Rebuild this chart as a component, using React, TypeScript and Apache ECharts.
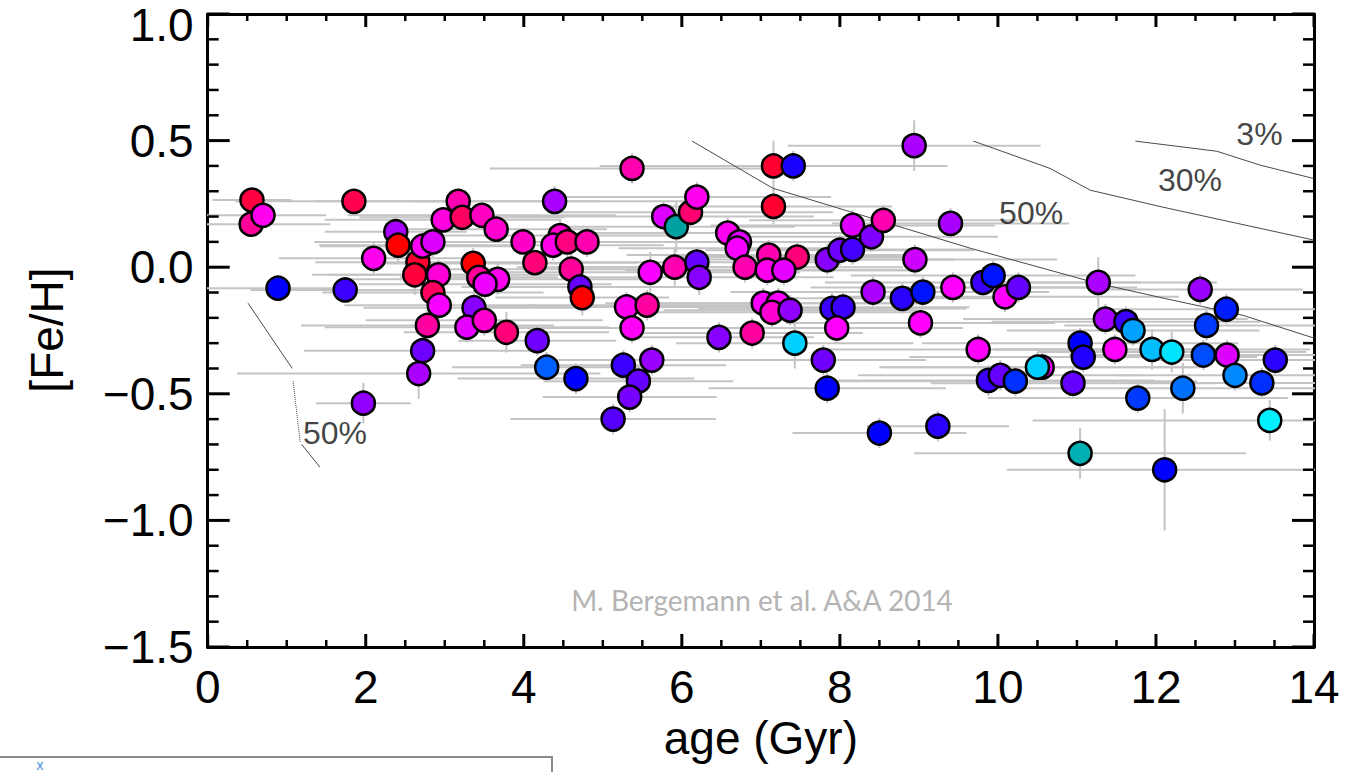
import React, { useEffect, useRef } from "react";
import * as echarts from "echarts";

// ---- data ----
const ages = [
  0.56, 0.55, 0.70, 0.89, 1.74, 1.85, 1.97, 2.10, 2.38, 2.41, 2.66, 2.62, 2.72, 2.85, 2.92, 2.85, 2.93, 2.78, 2.72, 2.67,
  2.98, 3.17, 3.22, 3.47, 3.65, 3.36, 3.43, 3.67, 3.51, 3.37, 3.28, 3.50, 3.78, 4.17, 4.29, 4.66, 3.99, 4.14, 4.39, 4.46,
  4.37, 4.55, 4.60, 4.71, 4.74, 4.80,
  5.37, 7.16, 7.41, 7.16, 8.94, 5.77, 5.93, 6.11, 6.19, 5.60, 5.91, 6.19, 6.22, 5.30, 5.56, 5.37, 5.26, 5.62, 5.45, 5.34,
  5.13, 6.58, 6.73, 6.70, 7.10, 7.46, 6.80, 7.08, 7.29, 6.47, 6.89, 7.43, 7.03, 7.22, 7.14, 7.37, 7.84, 8.00, 8.16, 8.16,
  8.40, 8.55, 9.40, 8.95, 7.90, 8.04, 7.96, 7.79, 7.84, 8.42, 8.79, 9.05, 9.02, 9.43, 8.50, 9.24,
  9.81, 9.94, 10.09, 10.26, 9.75, 9.88, 10.03, 10.22, 10.56, 10.50, 10.95, 11.04, 11.08, 11.04, 11.27, 11.36, 11.62, 11.71,
  11.48, 11.95, 12.20, 11.77, 12.34, 12.11, 12.56, 12.89, 12.64, 12.60, 12.90, 13.00, 13.34, 13.51, 13.44,
];
const fehs = [
  0.265, 0.17, 0.205, -0.083, -0.09, 0.26, -0.537, 0.035, 0.14, 0.087, 0.02, -0.03, 0.083, 0.10, -0.03, -0.10, -0.15, -0.23, -0.33, -0.42,
  0.187, 0.26, 0.197, 0.205, 0.15, 0.015, -0.04, -0.048, -0.067, -0.16, -0.237, -0.21, -0.257, -0.29, -0.395, -0.44, 0.10, 0.018, 0.26, 0.125,
  0.087, 0.10, -0.008, -0.078, -0.12, 0.10,
  0.39, 0.40, 0.40, 0.24, 0.48, 0.20, 0.16, 0.217, 0.277, -0.02, 0.0, 0.02, -0.04, -0.157, -0.15, -0.24, -0.387, -0.367, -0.45, -0.513,
  -0.60, 0.135, 0.10, 0.075, 0.048, 0.04, 0.0, -0.012, -0.012, -0.277, -0.26, -0.30, -0.142, -0.142, -0.178, -0.17, 0.03, 0.067, 0.07, 0.165,
  0.12, 0.185, 0.173, 0.03, -0.163, -0.158, -0.24, -0.367, -0.478, -0.098, -0.123, -0.098, -0.22, -0.08, -0.655, -0.628,
  -0.06, -0.033, -0.117, -0.08, -0.325, -0.447, -0.427, -0.45, -0.395, -0.395, -0.458, -0.30, -0.355, -0.735, -0.06, -0.205, -0.215, -0.25,
  -0.325, -0.325, -0.335, -0.517, -0.478, -0.80, -0.088, -0.166, -0.23, -0.347, -0.347, -0.427, -0.457, -0.367, -0.605,
];
// colour-coded quantity (0 = red ... 1 = teal)
const colorParam = [
  0.07, 0.17, 0.28, 0.60, 0.53, 0.08, 0.43, 0.28, 0.40, 0.00, 0.05, 0.06, 0.29, 0.34, 0.25, 0.10, 0.31, 0.18, 0.47, 0.40,
  0.26, 0.20, 0.10, 0.22, 0.24, 0.00, 0.17, 0.28, 0.32, 0.44, 0.33, 0.24, 0.13, 0.47, 0.70, 0.60, 0.23, 0.13, 0.40, 0.23,
  0.27, 0.14, 0.17, 0.48, 0.00, 0.20,
  0.20, 0.05, 0.57, 0.05, 0.40, 0.34, 1.00, 0.12, 0.28, 0.31, 0.20, 0.48, 0.44, 0.28, 0.18, 0.29, 0.53, 0.42, 0.48, 0.46,
  0.50, 0.28, 0.34, 0.31, 0.20, 0.13, 0.20, 0.28, 0.33, 0.44, 0.18, 0.85, 0.31, 0.30, 0.24, 0.43, 0.44, 0.47, 0.52, 0.34,
  0.45, 0.20, 0.40, 0.36, 0.53, 0.53, 0.30, 0.47, 0.60, 0.40, 0.55, 0.62, 0.30, 0.30, 0.60, 0.55,
  0.53, 0.62, 0.30, 0.48, 0.30, 0.53, 0.48, 0.65, 0.32, 0.85, 0.48, 0.60, 0.56, 0.98, 0.40, 0.40, 0.53, 0.78,
  0.30, 0.82, 0.88, 0.66, 0.72, 0.60, 0.42, 0.63, 0.66, 0.68, 0.34, 0.75, 0.65, 0.55, 0.90,
];
const ageErr = [
  0.5, 1.0, 0.8, 0.9, 1.2, 1.5, 0.6, 1.2, 0.9, 1.0, 1.3, 1.1, 1.3, 1.5, 1.6, 1.4, 1.2, 1.6, 1.5, 2.3,
  1.5, 1.8, 1.3, 1.7, 1.4, 1.2, 1.0, 2.0, 1.6, 1.4, 1.8, 1.5, 1.3, 1.0, 1.2, 1.5, 1.6, 1.3, 1.8, 1.5,
  1.4, 1.2, 1.7, 1.5, 1.1, 1.8,
  1.8, 2.2, 1.6, 1.5, 1.6, 1.9, 1.5, 1.8, 1.7, 1.9, 2.0, 1.6, 1.7, 1.8, 1.5, 2.0, 1.3, 1.4, 1.2, 1.1,
  1.3, 1.9, 1.7, 1.5, 1.8, 1.6, 2.0, 1.8, 1.7, 1.2, 1.4, 1.5, 2.0, 1.9, 1.8, 1.6, 1.6, 1.7, 1.5, 1.8,
  1.6, 1.7, 1.5, 1.8, 1.7, 1.6, 1.6, 1.3, 1.5, 1.8, 1.5, 1.6, 1.7, 1.8, 1.1, 0.9,
  2.0, 1.8, 2.2, 1.5, 1.9, 2.1, 1.8, 2.3, 2.0, 2.0, 1.8, 2.0, 2.2, 2.1, 1.5, 1.8, 1.7, 1.6,
  1.5, 2.0, 1.7, 1.9, 2.0, 2.0, 1.3, 1.5, 1.8, 1.7, 1.6, 1.5, 1.7, 1.6, 3.0,
];
const fehErr = [
  0.04, 0.05, 0.05, 0.05, 0.05, 0.05, 0.08, 0.06, 0.06, 0.07, 0.06, 0.08, 0.06, 0.06, 0.06, 0.06, 0.06, 0.06, 0.07, 0.10,
  0.05, 0.05, 0.05, 0.05, 0.05, 0.06, 0.06, 0.06, 0.06, 0.07, 0.06, 0.06, 0.08, 0.06, 0.06, 0.06, 0.05, 0.05, 0.06, 0.06,
  0.06, 0.06, 0.06, 0.06, 0.07, 0.06,
  0.06, 0.10, 0.06, 0.07, 0.10, 0.06, 0.10, 0.06, 0.06, 0.08, 0.08, 0.06, 0.07, 0.06, 0.06, 0.06, 0.06, 0.06, 0.06, 0.06,
  0.06, 0.06, 0.06, 0.06, 0.06, 0.06, 0.06, 0.06, 0.06, 0.06, 0.06, 0.10, 0.06, 0.06, 0.06, 0.06, 0.06, 0.06, 0.06, 0.06,
  0.06, 0.06, 0.06, 0.06, 0.06, 0.06, 0.06, 0.06, 0.06, 0.06, 0.06, 0.06, 0.06, 0.06, 0.06, 0.06,
  0.06, 0.06, 0.06, 0.06, 0.06, 0.06, 0.06, 0.06, 0.06, 0.06, 0.06, 0.06, 0.06, 0.10, 0.10, 0.06, 0.06, 0.06,
  0.06, 0.08, 0.08, 0.06, 0.10, 0.24, 0.06, 0.06, 0.06, 0.06, 0.06, 0.06, 0.06, 0.06, 0.08,
];

// probability contours [age, [Fe/H]]
const contour50Right = [[6.13, 0.498], [7.15, 0.312], [9.65, 0.075], [11.25, -0.063], [12.09, -0.122], [13.1, -0.19], [14.0, -0.28]];
const contour30 = [[9.69, 0.498], [10.66, 0.39], [11.17, 0.304], [12.09, 0.237], [14.0, 0.107]];
const contour3 = [[11.74, 0.498], [12.77, 0.458], [13.32, 0.403], [14.0, 0.35]];
const contour50LeftA = [[0.51, -0.142], [1.07, -0.4]];
const contour50LeftDot = [[1.08, -0.45], [1.17, -0.69]];
const contour50LeftB = [[1.19, -0.7], [1.42, -0.79]];
const contourLabels = [
  { text: "50%", pos: [1.61, -0.656] },
  { text: "50%", pos: [10.42, 0.213] },
  { text: "30%", pos: [12.43, 0.344] },
  { text: "3%", pos: [13.31, 0.525] },
];

const xTicks = { min: 0, max: 14, interval: 2, minorSplit: 4 };
const yTicks = { min: -1.5, max: 1.0, interval: 0.5, minorSplit: 5 };

const colorStops = [
  "#ff0000", "#ff0060", "#ff00b0", "#ff00ff", "#aa00ff", "#5500ff",
  "#0000ff", "#0060ff", "#00b0ff", "#00f0ff", "#00a0a0",
];

const FONT = "'Liberation Sans', Arial, Helvetica, sans-serif";

// tick values derived from the axis definitions: [value, isX(1/0), isMajor(1/0)]
function buildTicks() {
  const out: number[][] = [];
  const add = (t: typeof xTicks, isX: number) => {
    const step = t.interval / t.minorSplit;
    const n = Math.round((t.max - t.min) / step);
    for (let i = 0; i <= n; i++) {
      const v = t.min + i * step;
      out.push([v, isX, i % t.minorSplit === 0 ? 1 : 0]);
    }
  };
  add(xTicks, 1);
  add(yTicks, 0);
  return out;
}

export default function App() {
  const ref = useRef<HTMLDivElement>(null);
  useEffect(() => {
    if (!ref.current) return;
    const chart = echarts.init(ref.current, null, { renderer: "svg" });
    const points = ages.map((a, i) => [a, fehs[i], colorParam[i]]);
    const errs = ages.map((a, i) => [a, fehs[i], ageErr[i], fehErr[i]]);
    const ticks = buildTicks();

    const axisCommon = {
      type: "value" as const,
      splitLine: { show: false },
      axisLine: { show: true, onZero: false, lineStyle: { color: "#000", width: 3 } },
      axisTick: { show: false },
      minorTick: { show: false },
    };
    const xAxisBase = { ...axisCommon, min: xTicks.min, max: xTicks.max, interval: xTicks.interval };
    const yAxisBase = { ...axisCommon, min: yTicks.min, max: yTicks.max, interval: yTicks.interval };
    const lineSeries = (data: number[][], type: string = "solid") => ({
      type: "line",
      data,
      xAxisIndex: 0,
      yAxisIndex: 0,
      symbol: "none",
      silent: true,
      z: 2,
      lineStyle: { color: "#4a4a4a", width: 1, type },
    });
    const labelStyle = { fontSize: 46, color: "#000", fontFamily: FONT };

    chart.setOption({
      animation: false,
      backgroundColor: "#fff",
      grid: { left: 207.7, right: 51, top: 14, bottom: 125, containLabel: false },
      xAxis: [
        {
          ...xAxisBase,
          position: "bottom",
          name: "age (Gyr)",
          nameLocation: "middle",
          nameGap: 68,
          nameTextStyle: { ...labelStyle, verticalAlign: "top" },
          axisLabel: { ...labelStyle, margin: 17 },
        },
        { ...xAxisBase, position: "top", axisLabel: { show: false } },
      ],
      yAxis: [
        {
          ...yAxisBase,
          position: "left",
          axisLabel: {
            ...labelStyle,
            margin: 14,
            formatter: (v: number) => {
              const s = (v < 0 ? "\u2212" : "") + Math.abs(v).toFixed(1);
              return v >= yTicks.max ? "{top|" + s + "}" : s;
            },
            rich: { top: { ...labelStyle, padding: [22, 0, 0, 0] } },
          },
        },
        { ...yAxisBase, position: "right", axisLabel: { show: false } },
      ],
      visualMap: {
        type: "continuous",
        show: false,
        seriesIndex: 1,
        dimension: 2,
        min: 0,
        max: 1,
        inRange: { color: colorStops },
      },
      series: [
        {
          type: "custom",
          xAxisIndex: 0,
          yAxisIndex: 0,
          clip: true,
          silent: true,
          z: 1,
          data: errs,
          encode: { x: 0, y: 1 },
          renderItem: (params: any, api: any) => {
            const x = api.value(0);
            const y = api.value(1);
            const ex = api.value(2);
            const ey = api.value(3);
            const a = api.coord([x - ex, y]);
            const b = api.coord([x + ex, y]);
            const c = api.coord([x, y - ey]);
            const d = api.coord([x, y + ey]);
            const style = { stroke: "#c4c4c4", lineWidth: 2 };
            return {
              type: "group",
              children: [
                { type: "line", shape: { x1: a[0], y1: a[1], x2: b[0], y2: b[1] }, style },
                { type: "line", shape: { x1: c[0], y1: c[1], x2: d[0], y2: d[1] }, style },
              ],
            };
          },
        },
        {
          type: "scatter",
          xAxisIndex: 0,
          yAxisIndex: 0,
          data: points,
          symbol: "circle",
          symbolSize: 23,
          z: 3,
          itemStyle: { borderColor: "#000", borderWidth: 2.5, opacity: 1 },
        },
        lineSeries(contour50Right),
        lineSeries(contour30),
        lineSeries(contour3),
        lineSeries(contour50LeftA),
        lineSeries(contour50LeftDot, "dotted"),
        lineSeries(contour50LeftB),
        {
          type: "scatter",
          xAxisIndex: 0,
          yAxisIndex: 0,
          symbolSize: 0,
          silent: true,
          z: 4,
          data: contourLabels.map((l) => ({ value: l.pos, name: l.text })),
          label: {
            show: true,
            position: "inside",
            formatter: (p: any) => p.name,
            fontSize: 32,
            color: "#111",
            fontFamily: FONT,
          },
        },
        {
          // inward tick marks on all four sides of the frame
          type: "custom",
          xAxisIndex: 0,
          yAxisIndex: 0,
          silent: true,
          z: 6,
          data: ticks,
          renderItem: (params: any, api: any) => {
            const v = api.value(0);
            const isX = api.value(1) === 1;
            const major = api.value(2) === 1;
            const bl = api.coord([xTicks.min, yTicks.min]);
            const tr = api.coord([xTicks.max, yTicks.max]);
            const style = { stroke: "#000", lineWidth: major ? 3 : 2.5 };
            if (isX) {
              const px = api.coord([v, yTicks.min])[0];
              const len = major ? 13 : 7;
              return {
                type: "group",
                children: [
                  { type: "line", shape: { x1: px, y1: bl[1], x2: px, y2: bl[1] - len }, style },
                  { type: "line", shape: { x1: px, y1: tr[1], x2: px, y2: tr[1] + len }, style },
                ],
              };
            }
            const py = api.coord([xTicks.min, v])[1];
            const len = major ? 22 : 11;
            return {
              type: "group",
              children: [
                { type: "line", shape: { x1: bl[0], y1: py, x2: bl[0] + len, y2: py }, style },
                { type: "line", shape: { x1: tr[0], y1: py, x2: tr[0] - len, y2: py }, style },
              ],
            };
          },
        },
      ],
      graphic: [
        {
          type: "text",
          rotation: Math.PI / 2,
          x: 47,
          y: 330,
          style: {
            text: "[Fe/H]",
            fontSize: 46,
            fontFamily: FONT,
            fill: "#000",
            align: "center",
            verticalAlign: "middle",
          },
        },
        {
          type: "text",
          x: 762,
          y: 600,
          style: {
            text: "M. Bergemann et al. A&A 2014",
            fontSize: 28,
            fontFamily: "Lato, 'Open Sans', sans-serif",
            fill: "#b4b4b4",
            align: "center",
            verticalAlign: "middle",
          },
        },
        {
          type: "rect",
          shape: { x: -3, y: 757, width: 555, height: 30 },
          style: { fill: "#fff", stroke: "#8a8a8a", lineWidth: 2 },
        },
        {
          type: "text",
          x: 40,
          y: 765,
          style: { text: "x", fontSize: 14, fontFamily: FONT, fill: "#4d8fe0", align: "center", verticalAlign: "middle" },
        },
      ],
    });
    return () => chart.dispose();
  }, []);
  return (
    <div
      ref={ref}
      style={{ position: "absolute", left: 0, top: 0, width: 1365, height: 772, background: "#fff" }}
    />
  );
}
